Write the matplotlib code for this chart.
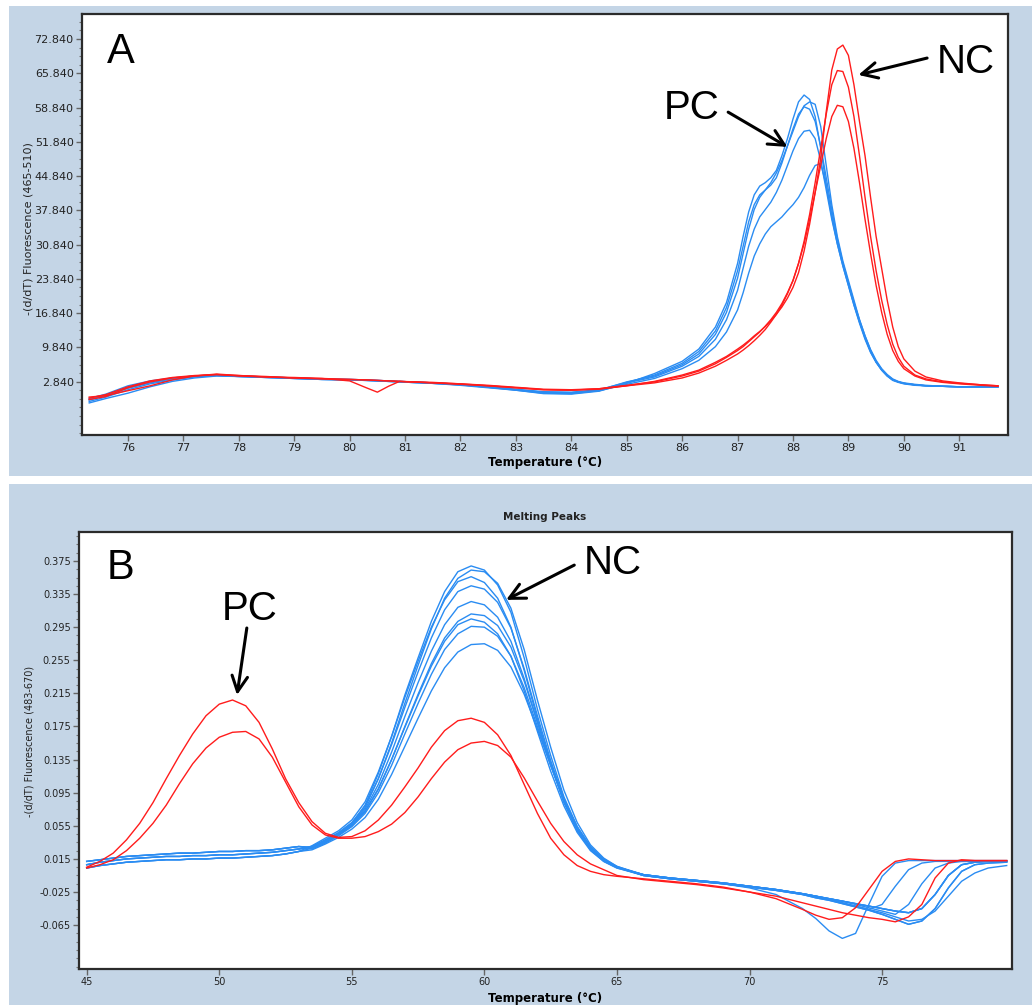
import matplotlib
matplotlib.use("Agg")
import matplotlib.pyplot as plt
from matplotlib.patches import Rectangle
from matplotlib.ticker import FixedLocator, AutoMinorLocator

# ---------------- Panel A data ----------------
temp_a = [75.3, 75.6, 76.0, 76.4, 76.8, 77.2, 77.6, 78.0, 78.5, 79.0, 79.5, 80.0,
          80.3, 80.5, 80.7, 80.9, 81.5, 82.0, 82.5, 83.0, 83.5, 84.0, 84.5, 85.0,
          85.5, 86.0, 86.3, 86.6, 86.8, 87.0, 87.1, 87.2, 87.3, 87.4, 87.5, 87.6,
          87.7, 87.8, 87.9, 88.0, 88.1, 88.2, 88.3, 88.4, 88.5, 88.6, 88.7, 88.8,
          88.9, 89.0, 89.1, 89.2, 89.3, 89.4, 89.5, 89.6, 89.7, 89.8, 89.9, 90.0,
          90.2, 90.4, 90.7, 91.0, 91.4, 91.7]

a_red1 = ([-0.5, 0.2, 1.8, 3.0, 3.7, 4.1, 4.3, 4.0, 3.8, 3.7, 3.5, 3.0, 1.6, 0.7, 1.9, 2.9,
           2.6, 2.3, 2.0, 1.6, 1.2, 1.1, 1.4, 2.0] +
          [2.9, 4.2, 5.2, 6.8, 8.0, 9.5, 10.3, 11.2, 12.2, 13.1, 14.1, 15.3, 16.6, 18.1,
           19.9, 22.1, 25.1, 29.5, 35.0, 41.5, 48.5, 58.0, 66.5, 70.8, 71.6, 69.5, 63.5,
           56.0, 49.0, 40.5, 32.5, 26.0, 19.5, 14.0, 10.0, 7.5, 5.0, 3.8, 3.0, 2.6, 2.2, 2.0])
a_red2 = ([-0.3, 0.0, 1.0, 2.0, 3.2, 4.0, 4.3, 4.1, 3.8, 3.6, 3.4, 3.3, 3.2, 3.1, 3.0, 2.9,
           2.6, 2.4, 2.1, 1.7, 1.3, 1.2, 1.4, 2.1] +
          [2.8, 4.0, 5.0, 6.5, 7.8, 9.2, 10.0, 11.0, 12.0, 13.0, 14.2, 15.5, 17.0, 18.8,
           21.0, 23.5, 27.0, 31.5, 37.0, 43.5, 50.5, 57.5, 63.5, 66.4, 66.2, 63.0, 57.0,
           49.0, 40.5, 32.5, 25.5, 19.5, 14.5, 10.5, 7.8, 6.0, 4.2, 3.4, 2.8, 2.5, 2.2, 2.0])
a_red3 = ([-0.8, -0.2, 1.6, 2.8, 3.6, 4.0, 4.4, 4.1, 3.9, 3.6, 3.5, 3.3, 3.2, 3.1, 3.0, 2.9,
           2.7, 2.4, 2.0, 1.6, 1.2, 1.1, 1.3, 2.0] +
          [2.6, 3.6, 4.6, 6.0, 7.2, 8.5, 9.3, 10.2, 11.2, 12.3, 13.5, 15.0, 16.6, 18.5,
           20.8, 23.5, 27.0, 31.0, 36.0, 41.5, 47.0, 52.5, 57.0, 59.3, 59.0, 56.0, 50.5,
           43.5, 36.0, 29.0, 22.5, 17.0, 12.5, 9.2, 7.0, 5.5, 4.0, 3.2, 2.7, 2.4, 2.1, 1.9])

a_blue1 = ([-1.5, -0.6, 0.5, 1.8, 2.9, 3.6, 4.0, 3.9, 3.7, 3.5, 3.3, 3.2, 3.1, 3.0, 2.9, 2.8,
            2.5, 2.1, 1.6, 1.1, 0.4, 0.3, 0.9, 2.5] +
           [4.5, 7.0, 9.5, 14.0, 19.0, 27.0, 32.5, 37.5, 41.0, 42.8, 43.5, 44.5, 46.0, 49.0,
            52.5, 56.5, 60.0, 61.4, 60.5, 57.0, 50.5, 43.0, 36.5, 31.0, 26.5, 22.5, 18.5,
            14.8, 11.5, 8.8, 6.8, 5.2, 4.0, 3.2, 2.8, 2.5, 2.2, 2.0, 1.9, 1.8, 1.8, 1.8])
a_blue2 = ([-0.6, 0.3, 2.0, 3.0, 3.6, 4.0, 4.2, 4.0, 3.8, 3.6, 3.4, 3.3, 3.2, 3.1, 3.0, 2.9,
            2.6, 2.3, 1.8, 1.2, 0.6, 0.5, 1.1, 2.8] +
           [4.0, 6.3, 8.5, 12.5, 17.0, 24.0, 29.0, 34.0, 38.0, 40.5, 42.0, 43.5, 45.5, 48.0,
            51.0, 54.0, 57.0, 59.2, 60.0, 59.5, 55.0, 47.0, 39.0, 32.5, 27.5, 23.5, 19.5,
            15.5, 12.2, 9.3, 7.0, 5.4, 4.2, 3.3, 2.8, 2.5, 2.2, 2.0, 1.9, 1.8, 1.8, 1.8])
a_blue3 = ([-0.8, 0.0, 1.5, 2.6, 3.4, 3.9, 4.1, 3.9, 3.7, 3.5, 3.3, 3.2, 3.1, 3.0, 2.9, 2.8,
            2.5, 2.2, 1.7, 1.1, 0.5, 0.4, 1.0, 2.6] +
           [3.8, 6.0, 8.0, 11.5, 15.5, 21.5, 26.0, 30.5, 34.0, 36.5, 38.0, 39.5, 41.5, 44.0,
            47.0, 50.0, 52.5, 54.0, 54.2, 52.5, 48.0, 42.0, 36.0, 31.0, 26.5, 22.5, 18.5,
            15.0, 11.8, 9.0, 6.8, 5.2, 4.0, 3.1, 2.7, 2.4, 2.1, 2.0, 1.9, 1.8, 1.8, 1.8])
a_blue4 = ([-1.2, -0.3, 1.2, 2.4, 3.2, 3.8, 4.1, 3.9, 3.7, 3.5, 3.3, 3.2, 3.1, 3.0, 2.9, 2.8,
            2.5, 2.2, 1.7, 1.2, 0.7, 0.6, 1.0, 2.3] +
           [3.5, 5.5, 7.2, 10.0, 13.0, 17.5, 21.0, 25.0, 28.5, 31.0, 33.0, 34.5, 35.5, 36.5,
            37.8, 39.0, 40.5, 42.5, 45.0, 47.0, 47.4, 43.0, 37.0, 31.5, 27.0, 23.0, 19.0,
            15.5, 12.2, 9.4, 7.2, 5.5, 4.3, 3.4, 2.9, 2.6, 2.3, 2.1, 1.9, 1.8, 1.8, 1.8])
a_blue5 = ([-0.9, 0.1, 1.7, 2.8, 3.5, 4.0, 4.2, 4.0, 3.8, 3.6, 3.4, 3.3, 3.2, 3.1, 3.0, 2.9,
            2.6, 2.3, 1.8, 1.3, 0.8, 0.7, 1.2, 2.7] +
           [4.2, 6.6, 9.0, 13.2, 18.0, 25.5, 30.5, 35.5, 39.0, 41.0, 42.0, 43.0, 44.5, 47.5,
            51.0, 54.5, 57.5, 59.0, 58.5, 56.0, 51.0, 44.5, 38.0, 32.0, 27.0, 23.0, 19.0,
            15.2, 11.8, 9.0, 6.9, 5.3, 4.1, 3.2, 2.8, 2.5, 2.2, 2.0, 1.9, 1.8, 1.8, 1.8])

a_yticks = [2.84, 9.84, 16.84, 23.84, 30.84, 37.84, 44.84, 51.84, 58.84, 65.84, 72.84]
a_ylabels = ["2.840", "9.840", "16.840", "23.840", "30.840", "37.840", "44.840",
             "51.840", "58.840", "65.840", "72.840"]
a_xticks = [76, 77, 78, 79, 80, 81, 82, 83, 84, 85, 86, 87, 88, 89, 90, 91]

# ---------------- Panel B data ----------------
temp_b = [45, 45.5, 46, 46.5, 47, 47.5, 48, 48.5, 49, 49.5, 50, 50.5, 51, 51.5, 52, 52.5, 53,
          53.5, 54, 54.5, 55, 55.5, 56, 56.5, 57, 57.5, 58, 58.5, 59, 59.5, 60, 60.5, 61,
          61.5, 62, 62.5, 63, 63.5, 64, 64.5, 65,
          66, 67, 68, 69, 70, 71, 72, 72.5, 73, 73.5, 74, 74.5, 75, 75.5, 76, 76.5, 77,
          77.5, 78, 78.5, 79, 79.7]

b_red1 = [0.005, 0.012, 0.022, 0.038, 0.058, 0.083, 0.112, 0.140, 0.166, 0.188, 0.202, 0.207,
          0.200, 0.180, 0.148, 0.112, 0.083,
          0.060, 0.046, 0.041, 0.042, 0.049, 0.062, 0.080, 0.102, 0.125, 0.150, 0.170, 0.182,
          0.185, 0.180, 0.165, 0.140, 0.105, 0.070, 0.040, 0.020, 0.007, 0.000, -0.004, -0.006,
          -0.009, -0.012, -0.015, -0.019, -0.025, -0.033, -0.046, -0.053, -0.058, -0.056,
          -0.044, -0.022, 0.000, 0.012, 0.015, 0.014, 0.013, 0.013, 0.013, 0.013, 0.013, 0.013]
b_red2 = [0.004, 0.008, 0.014, 0.025, 0.040, 0.058, 0.080, 0.106, 0.130, 0.149, 0.162, 0.168,
          0.169, 0.160, 0.138, 0.108, 0.078,
          0.056, 0.044, 0.040, 0.040, 0.042, 0.048, 0.057, 0.071, 0.090, 0.112, 0.132, 0.147,
          0.155, 0.157, 0.152, 0.138, 0.113, 0.085, 0.058, 0.036, 0.020, 0.009, 0.002, -0.005,
          -0.010, -0.013, -0.016, -0.020, -0.025, -0.030, -0.038, -0.042, -0.046, -0.050,
          -0.053, -0.056, -0.058, -0.061, -0.055, -0.040, -0.008, 0.010, 0.014, 0.013, 0.013,
          0.013]

# blue (NC) curves: low-temperature part, peak part, high-temperature part
b_base_lo = [0.004, 0.007, 0.009, 0.011, 0.012, 0.013, 0.014, 0.014, 0.015, 0.015, 0.016,
             0.016, 0.017, 0.018, 0.019, 0.021, 0.024]
b_base_mid = [0.008, 0.011, 0.013, 0.015, 0.016, 0.017, 0.018, 0.018, 0.019, 0.019, 0.020,
              0.020, 0.021, 0.022, 0.023, 0.025, 0.027]
b_base_hi = [0.012, 0.014, 0.016, 0.018, 0.019, 0.020, 0.021, 0.022, 0.022, 0.023, 0.024,
             0.024, 0.025, 0.025, 0.026, 0.028, 0.030]

b_peak1 = [0.030, 0.038, 0.046, 0.058, 0.080, 0.118, 0.163, 0.213, 0.258, 0.302, 0.338, 0.362,
           0.369, 0.364, 0.346, 0.313, 0.258, 0.196, 0.140, 0.090, 0.054, 0.029, 0.014, 0.005]
b_peak2 = [0.029, 0.036, 0.045, 0.057, 0.077, 0.112, 0.155, 0.203, 0.249, 0.293, 0.330, 0.354,
           0.364, 0.362, 0.348, 0.318, 0.268, 0.207, 0.150, 0.098, 0.059, 0.032, 0.016, 0.006]
b_peak3 = [0.031, 0.040, 0.049, 0.062, 0.084, 0.120, 0.163, 0.210, 0.254, 0.295, 0.328, 0.350,
           0.356, 0.349, 0.330, 0.295, 0.243, 0.184, 0.130, 0.083, 0.049, 0.026, 0.012, 0.004]
b_peak4 = [0.030, 0.038, 0.047, 0.059, 0.079, 0.112, 0.153, 0.198, 0.241, 0.282, 0.316, 0.338,
           0.345, 0.341, 0.325, 0.294, 0.245, 0.188, 0.134, 0.087, 0.052, 0.028, 0.013, 0.005]
b_peak5 = [0.029, 0.037, 0.046, 0.057, 0.075, 0.105, 0.144, 0.187, 0.228, 0.266, 0.298, 0.319,
           0.326, 0.322, 0.307, 0.278, 0.233, 0.180, 0.129, 0.084, 0.050, 0.027, 0.013, 0.005]
b_peak6 = [0.028, 0.035, 0.044, 0.055, 0.072, 0.099, 0.135, 0.175, 0.214, 0.251, 0.282, 0.302,
           0.311, 0.309, 0.297, 0.271, 0.230, 0.180, 0.131, 0.087, 0.053, 0.029, 0.014, 0.005]
b_peak7 = [0.029, 0.036, 0.045, 0.056, 0.073, 0.100, 0.135, 0.174, 0.212, 0.248, 0.278, 0.298,
           0.305, 0.301, 0.287, 0.260, 0.218, 0.169, 0.121, 0.079, 0.047, 0.025, 0.012, 0.004]
b_peak8 = [0.027, 0.034, 0.043, 0.054, 0.070, 0.095, 0.128, 0.166, 0.203, 0.238, 0.268, 0.287,
           0.296, 0.295, 0.284, 0.260, 0.222, 0.175, 0.128, 0.085, 0.052, 0.029, 0.014, 0.005]
b_peak9 = [0.026, 0.033, 0.041, 0.051, 0.065, 0.087, 0.117, 0.151, 0.185, 0.218, 0.246, 0.265,
           0.274, 0.275, 0.267, 0.247, 0.214, 0.172, 0.128, 0.087, 0.054, 0.030, 0.015, 0.006]

b_tail_std = [-0.004, -0.008, -0.011, -0.014, -0.018, -0.022, -0.027, -0.030, -0.033, -0.036,
              -0.039, -0.042, -0.045, -0.048, -0.050, -0.045, -0.028, -0.005, 0.008, 0.011,
              0.012, 0.012]
b_tail_late = [-0.005, -0.009, -0.012, -0.015, -0.019, -0.023, -0.028, -0.032, -0.035, -0.039,
               -0.043, -0.047, -0.052, -0.058, -0.064, -0.060, -0.045, -0.020, 0.000, 0.008,
               0.010, 0.011]
b_tail_dip = [-0.005, -0.009, -0.012, -0.015, -0.020, -0.028, -0.045, -0.057, -0.072, -0.081,
              -0.075, -0.040, -0.006, 0.010, 0.013, 0.013, 0.013, 0.013, 0.013, 0.013, 0.013,
              0.013]
b_tail_early = [-0.004, -0.008, -0.011, -0.014, -0.018, -0.022, -0.027, -0.030, -0.034, -0.038,
                -0.042, -0.046, -0.040, -0.018, 0.002, 0.010, 0.012, 0.012, 0.012, 0.012,
                0.012, 0.012]
b_tail_mid = [-0.004, -0.008, -0.011, -0.014, -0.018, -0.022, -0.027, -0.030, -0.033, -0.036,
              -0.040, -0.044, -0.048, -0.052, -0.040, -0.015, 0.004, 0.010, 0.012, 0.012,
              0.012, 0.012]
b_tail_slow = [-0.005, -0.009, -0.012, -0.015, -0.019, -0.023, -0.028, -0.031, -0.034, -0.038,
               -0.042, -0.046, -0.050, -0.055, -0.060, -0.058, -0.048, -0.030, -0.012, -0.002,
               0.004, 0.007]

b_blue_parts = [
    (b_base_mid, b_peak1, b_tail_std),
    (b_base_hi, b_peak2, b_tail_late),
    (b_base_lo, b_peak3, b_tail_dip),
    (b_base_mid, b_peak4, b_tail_mid),
    (b_base_hi, b_peak5, b_tail_early),
    (b_base_lo, b_peak6, b_tail_late),
    (b_base_mid, b_peak7, b_tail_std),
    (b_base_hi, b_peak8, b_tail_slow),
    (b_base_lo, b_peak9, b_tail_std),
]

b_yticks = [0.375, 0.335, 0.295, 0.255, 0.215, 0.175, 0.135, 0.095, 0.055, 0.015, -0.025, -0.065]
b_ylabels = ["0.375", "0.335", "0.295", "0.255", "0.215", "0.175", "0.135", "0.095",
             "0.055", "0.015", "-0.025", "-0.065"]
b_xticks = [45, 50, 55, 60, 65, 70, 75]

# ---------------- Figure ----------------
W, H = 1032, 1005
fig = plt.figure(figsize=(W / 100, H / 100), dpi=100, facecolor="white")
BG = "#c4d5e6"
RED = "#ff1c1c"
BLUE = "#2a8cf2"
fig.patches.append(Rectangle((9 / W, 1 - 476 / H), 1 - 9 / W, 470 / H, transform=fig.transFigure,
                             facecolor=BG, edgecolor="none", zorder=-10))
fig.patches.append(Rectangle((9 / W, 0), 1 - 9 / W, 521 / H, transform=fig.transFigure,
                             facecolor=BG, edgecolor="none", zorder=-10))


def style_axes(ax, fs):
    for s in ax.spines.values():
        s.set_color("#2b2b2b")
        s.set_linewidth(1.6)
    ax.tick_params(axis="both", which="major", direction="out", length=4, width=1,
                   color="#666666", labelcolor="#222222", labelsize=fs, pad=2)
    ax.tick_params(axis="y", which="minor", direction="out", length=2.5, width=0.8,
                   color="#777777")
    ax.tick_params(axis="x", which="minor", length=0)
    ax.set_facecolor("white")


# Panel A
axA = fig.add_axes([82 / W, 1 - 435 / H, (1008 - 82) / W, (435 - 14) / H])
for c in [a_blue1, a_blue2, a_blue3, a_blue4, a_blue5]:
    axA.plot(temp_a, c, color=BLUE, lw=1.0)
for c in [a_red1, a_red2, a_red3]:
    axA.plot(temp_a, c, color=RED, lw=1.0)
axA.set_xlim(75.17, 91.88)
axA.set_ylim(-8.05, 77.95)
axA.yaxis.set_major_locator(FixedLocator(a_yticks))
axA.set_yticklabels(a_ylabels)
axA.yaxis.set_minor_locator(AutoMinorLocator(4))
axA.set_xticks(a_xticks)
axA.set_xticklabels([str(t) for t in a_xticks])
style_axes(axA, 8)
axA.set_xlabel("Temperature (\u00b0C)", fontsize=8.5, fontweight="bold", labelpad=2)
axA.set_ylabel("-(d/dT) Fluorescence (465-510)", fontsize=8, color="#222222")
axA.yaxis.set_label_coords(-0.052, 0.49)
axA.text(75.87, 70.2, "A", fontsize=30, family="Liberation Sans", ha="center", va="center")
axA.text(91.11, 68.1, "NC", fontsize=29, family="Liberation Sans", ha="center", va="center")
axA.text(86.18, 58.7, "PC", fontsize=29, family="Liberation Sans", ha="center", va="center")
arrow_kw = dict(arrowstyle="->", color="black", lw=2.2, mutation_scale=28, shrinkA=0, shrinkB=0)
axA.annotate("", xy=(89.18, 65.5), xytext=(90.42, 68.95), arrowprops=arrow_kw)
axA.annotate("", xy=(87.9, 50.8), xytext=(86.83, 57.9), arrowprops=arrow_kw)

# Panel B
axB = fig.add_axes([79 / W, 1 - 969 / H, (1012 - 79) / W, (969 - 532) / H])
for base, peak, tail in b_blue_parts:
    axB.plot(temp_b, base + peak + tail, color=BLUE, lw=1.0)
for c in [b_red1, b_red2]:
    axB.plot(temp_b, c, color=RED, lw=1.0)
axB.set_xlim(44.71, 79.9)
axB.set_ylim(-0.118, 0.41)
axB.yaxis.set_major_locator(FixedLocator(b_yticks))
axB.set_yticklabels(b_ylabels)
axB.yaxis.set_minor_locator(AutoMinorLocator(4))
axB.set_xticks(b_xticks)
axB.set_xticklabels([str(t) for t in b_xticks])
style_axes(axB, 7)
axB.set_xlabel("Temperature (\u00b0C)", fontsize=8.5, fontweight="bold", labelpad=3)
axB.set_ylabel("-(d/dT) Fluorescence (483-670)", fontsize=7, color="#222222")
axB.yaxis.set_label_coords(-0.048, 0.52)
fig.text(545 / W, 1 - 517 / H, "Melting Peaks", fontsize=7.5, fontweight="bold",
         ha="center", va="center", color="#222222")
axB.text(46.26, 0.366, "B", fontsize=30, family="Liberation Sans", ha="center", va="center")
axB.text(51.16, 0.317, "PC", fontsize=29, family="Liberation Sans", ha="center", va="center")
axB.text(64.86, 0.3725, "NC", fontsize=29, family="Liberation Sans", ha="center", va="center")
axB.annotate("", xy=(50.67, 0.213), xytext=(51.04, 0.294), arrowprops=arrow_kw)
axB.annotate("", xy=(60.82, 0.328), xytext=(63.39, 0.370), arrowprops=arrow_kw)

fig.savefig("out.png", dpi=100, facecolor="white")
